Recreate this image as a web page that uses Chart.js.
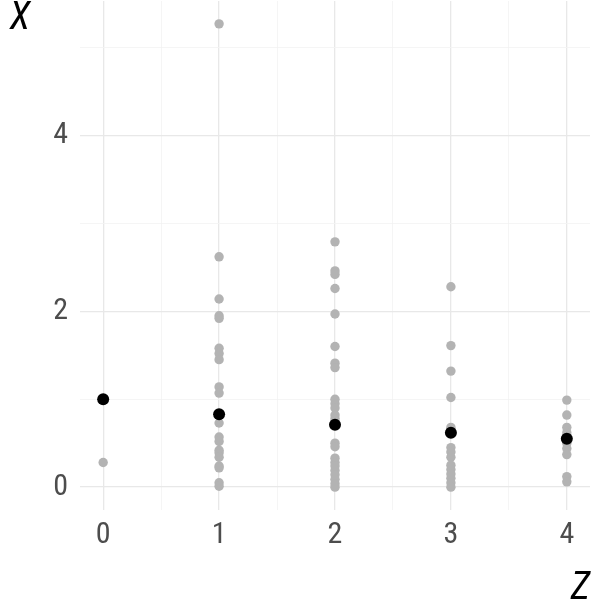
<!DOCTYPE html>
<html>
<head>
<meta charset="utf-8">
<script src="https://cdn.jsdelivr.net/npm/chart.js@4/dist/chart.umd.min.js"></script>
<style>
  html, body { margin: 0; padding: 0; background: #ffffff; }
  #wrap { width: 600px; height: 600px; }
</style>
</head>
<body>
<div id="wrap"><canvas id="c" width="600" height="600"></canvas></div>
<script>
// Categories on the Z axis
const zCategories = [0, 1, 2, 3, 4];
// Observed X values for each Z (grey points)
const obsZ0 = [0.28];
const obsZ1 = [5.27, 2.62, 2.14, 1.95, 1.92, 1.58, 1.52, 1.45, 1.14, 1.07, 0.73, 0.57, 0.52, 0.42, 0.39, 0.34, 0.24, 0.22, 0.05, 0.01];
const obsZ2 = [2.79, 2.46, 2.42, 2.26, 1.97, 1.60, 1.41, 1.36, 1.00, 0.95, 0.90, 0.82, 0.78, 0.50, 0.46, 0.33, 0.28, 0.24, 0.19, 0.14, 0.09, 0.04, 0.00];
const obsZ3 = [2.28, 1.61, 1.32, 1.02, 0.68, 0.45, 0.40, 0.34, 0.25, 0.20, 0.15, 0.10, 0.05, 0.00];
const obsZ4 = [0.99, 0.82, 0.68, 0.62, 0.50, 0.44, 0.37, 0.12, 0.06];
// Summary value per Z (black points)
const summaryX = [1.00, 0.83, 0.71, 0.62, 0.55];
// Tick labels
const xTickValues = [0, 1, 2, 3, 4];
const yTickLabels = [0, 2, 4];
const xTitle = 'Z';
const yTitle = 'X';

const obsGroups = [obsZ0, obsZ1, obsZ2, obsZ3, obsZ4];
const greyPoints = [];
obsGroups.forEach((g, i) => g.forEach(v => greyPoints.push({ x: zCategories[i], y: v })));
const blackPoints = summaryX.map((v, i) => ({ x: zCategories[i], y: v }));

const FONT_FAMILY = "'Roboto Condensed', 'Liberation Sans Narrow', 'DejaVu Sans Condensed', Roboto, sans-serif";

const titlesPlugin = {
  id: 'titles',
  afterDraw(chart) {
    const ctx = chart.ctx;
    ctx.save();
    ctx.fillStyle = '#000000';
    ctx.font = 'italic 38px ' + FONT_FAMILY;
    ctx.textBaseline = 'alphabetic';
    ctx.textAlign = 'center';
    ctx.fillText(yTitle, 20, 29);
    ctx.textAlign = 'right';
    ctx.fillText(xTitle, chart.chartArea.right, 599);
    ctx.restore();
  }
};

new Chart(document.getElementById('c'), {
  type: 'scatter',
  data: {
    datasets: [
      {
        label: 'summary',
        data: blackPoints,
        backgroundColor: '#000000',
        borderColor: '#000000',
        borderWidth: 0,
        pointRadius: 6,
        pointHoverRadius: 6
      },
      {
        label: 'observed',
        data: greyPoints,
        backgroundColor: '#b3b3b3',
        borderColor: '#b3b3b3',
        borderWidth: 0,
        pointRadius: 4.7,
        pointHoverRadius: 4.7
      }
    ]
  },
  options: {
    responsive: false,
    animation: false,
    layout: { autoPadding: false, padding: { top: 1, right: 10, left: 0, bottom: 0 } },
    plugins: {
      legend: { display: false },
      tooltip: { enabled: false },
      title: { display: false }
    },
    scales: {
      x: {
        type: 'linear',
        min: -0.2,
        max: 4.2,
        border: { display: false },
        afterFit(scale) { scale.height = 90; scale.paddingLeft = 0; scale.paddingRight = 0; },
        afterBuildTicks(scale) {
          const t = [];
          for (let v = 0; v <= 4.001; v += 0.5) t.push({ value: Math.round(v * 10) / 10 });
          scale.ticks = t;
        },
        grid: {
          drawTicks: false,
          color: (c) => (Number.isInteger(c.tick && c.tick.value) ? '#e8e8e8' : '#f3f3f3'),
          lineWidth: (c) => (Number.isInteger(c.tick && c.tick.value) ? 1.3 : 0.8)
        },
        ticks: {
          autoSkip: false,
          maxRotation: 0,
          padding: 7,
          color: '#4d4d4d',
          font: { family: FONT_FAMILY, size: 30, weight: '400' },
          callback: (v) => (xTickValues.includes(v) ? String(v) : '')
        }
      },
      y: {
        type: 'linear',
        min: -0.26,
        max: 5.53,
        border: { display: false },
        afterFit(scale) { scale.width = 80; scale.paddingTop = 0; scale.paddingBottom = 0; },
        afterBuildTicks(scale) {
          scale.ticks = [0, 1, 2, 3, 4, 5].map(v => ({ value: v }));
        },
        grid: {
          drawTicks: false,
          color: (c) => (c.tick && c.tick.value % 2 === 0 ? '#e8e8e8' : '#f3f3f3'),
          lineWidth: (c) => (c.tick && c.tick.value % 2 === 0 ? 1.3 : 0.8)
        },
        ticks: {
          autoSkip: false,
          padding: 12,
          color: '#4d4d4d',
          font: { family: FONT_FAMILY, size: 30, weight: '400' },
          callback: (v) => (yTickLabels.includes(v) ? String(v) : '')
        }
      }
    }
  },
  plugins: [titlesPlugin]
});
</script>
</body>
</html>
